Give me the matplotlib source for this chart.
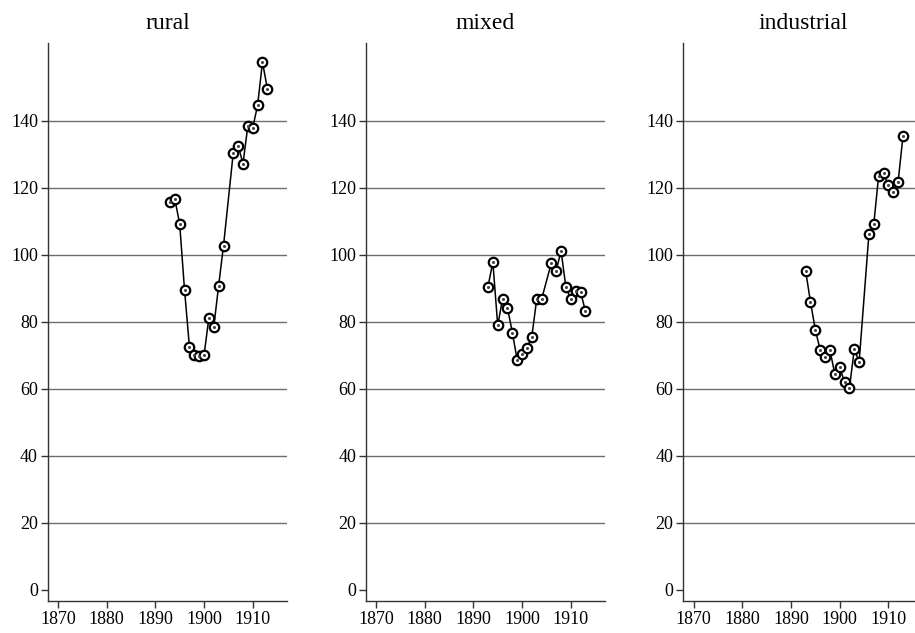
import matplotlib
matplotlib.use("Agg")
import matplotlib.pyplot as plt

plt.rcParams['font.family'] = ['Liberation Serif', 'DejaVu Serif']

panels = ["rural", "mixed", "industrial"]

years = [1893, 1894, 1895, 1896, 1897, 1898, 1899, 1900, 1901, 1902,
         1903, 1904, 1906, 1907, 1908, 1909, 1910, 1911, 1912, 1913]

rural = [115.8, 116.7, 109.2, 89.5, 72.6, 70.0, 69.8, 70.0, 81.2, 78.4,
         90.8, 102.7, 130.4, 132.6, 127.2, 138.5, 137.9, 144.6, 157.5, 149.6]
mixed = [90.5, 97.8, 78.9, 86.9, 84.2, 76.8, 68.6, 70.3, 72.1, 75.6,
         86.7, 86.7, 97.5, 95.2, 101.2, 90.3, 86.8, 89.3, 89.0, 83.2]
industrial = [95.3, 86.0, 77.6, 71.6, 69.6, 71.6, 64.4, 66.4, 62.0, 60.2,
              71.8, 68.1, 106.1, 109.1, 123.6, 124.3, 120.8, 118.6, 121.8, 135.4]

series = [rural, mixed, industrial]

yticks = [0, 20, 40, 60, 80, 100, 120, 140]
xticks = [1870, 1880, 1890, 1900, 1910]

fig = plt.figure(figsize=(9.15, 6.33), dpi=100)
lefts = [0.0521, 0.3997, 0.7468]
for name, vals, left in zip(panels, series, lefts):
    ax = fig.add_axes([left, 0.0506, 0.2619, 0.881])
    ax.plot(years, vals, color='black', lw=1.1, zorder=3,
            marker='o', markersize=6.8, markerfacecolor='white',
            markeredgecolor='black', markeredgewidth=1.6)
    ax.plot(years, vals, linestyle='none', marker='o', markersize=1.2,
            color='#444444', zorder=4)
    ax.set_xlim(1867.9, 1917.1)
    ax.set_ylim(-3.3, 163.1)
    ax.set_xticks(xticks)
    ax.set_yticks(yticks)
    for t in yticks[1:]:
        ax.axhline(t, color='#6e6e6e', lw=1.0, zorder=1)
    for s in ['top', 'right']:
        ax.spines[s].set_visible(False)
    for s in ['left', 'bottom']:
        ax.spines[s].set_color('#333333')
        ax.spines[s].set_linewidth(1.0)
    ax.tick_params(direction='out', length=5, width=1.0, color='#333333',
                   labelsize=13, pad=2)
    ax.set_title(name, fontsize=17, pad=10)

fig.savefig("out.png", dpi=100)
